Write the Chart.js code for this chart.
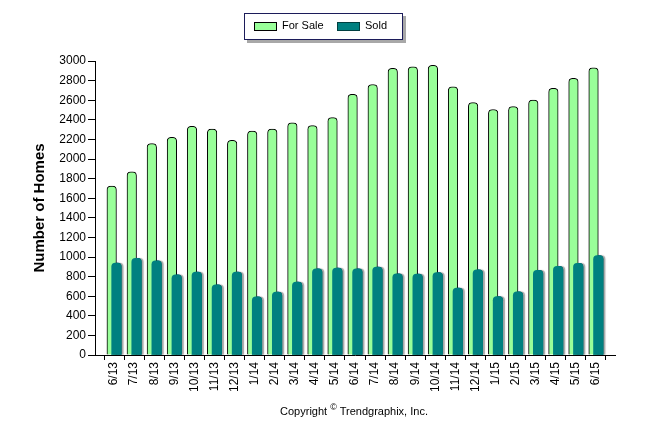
<!DOCTYPE html>
<html lang="en">
<head>
    <meta charset="UTF-8">
    <title>For Sale vs Sold</title>
    <script src="https://cdn.jsdelivr.net/npm/chart.js"></script>
    <style>
        body {
            margin: 0;
            padding: 0;
            background: #fff;
            font-family: 'Liberation Sans', Arial, sans-serif;
        }
        #wrap {
            position: relative;
            width: 646px;
            height: 434px;
        }
        #legend {
            position: absolute;
            left: 244px;
            top: 13px;
            width: 157px;
            height: 25px;
            border: 1px solid #1c1c5a;
            box-shadow: 3px 3px 0 #a8a8a8;
            background: #fff;
            font-size: 11px;
            color: #000;
        }
        #legend .sw {
            position: absolute;
            top: 8px;
            width: 21px;
            height: 7px;
            border: 1px solid #000;
        }
        #legend .txt {
            position: absolute;
            top: 5px;
        }
        #copy {
            position: absolute;
            left: 0;
            width: 646px;
            top: 402px;
            text-align: center;
            font-size: 11px;
            color: #000;
            padding-left: 62px;
            box-sizing: border-box;
        }
        #copy sup { font-size: 9px; }
    </style>
</head>
<body>
<div id="wrap">
    <canvas id="myChart" width="646" height="434"></canvas>
    <div id="legend">
        <div class="sw" style="left:9px;background:#99ff99"></div>
        <div class="txt" style="left:37px">For Sale</div>
        <div class="sw" style="left:92px;background:#008080;border-color:#004040"></div>
        <div class="txt" style="left:120px">Sold</div>
    </div>
    <div id="copy">Copyright <sup>©</sup> Trendgraphix, Inc.</div>
</div>

<script>
    const months = ['6/13', '7/13', '8/13', '9/13', '10/13', '11/13', '12/13',
        '1/14', '2/14', '3/14', '4/14', '5/14', '6/14', '7/14', '8/14', '9/14', '10/14', '11/14', '12/14',
        '1/15', '2/15', '3/15', '4/15', '5/15', '6/15'];
    const forSale = [1723, 1870, 2157, 2221, 2334, 2306, 2190, 2286, 2306, 2368, 2341, 2423,
        2661, 2760, 2924, 2941, 2955, 2736, 2576, 2505, 2535, 2600, 2722, 2822, 2930];
    const sold = [939, 986, 962, 819, 846, 717, 846, 594, 642, 744, 880, 887,
        880, 898, 829, 826, 840, 683, 870, 597, 645, 863, 904, 935, 1014];

    // Sold bars must sit on top of the For Sale bars
    const soldOnTop = {
        id: 'soldOnTop',
        afterDatasetsDraw(chart) {
            const ctx = chart.ctx;
            const a = chart.chartArea;
            ctx.save();
            ctx.beginPath();
            ctx.rect(a.left, a.top, a.right - a.left, a.bottom - a.top);
            ctx.clip();
            ctx.shadowColor = 'rgba(0,0,0,0.35)';
            ctx.shadowOffsetX = 2;
            ctx.shadowOffsetY = 0;
            ctx.shadowBlur = 1;
            chart.getDatasetMeta(1).controller.draw();
            ctx.restore();
        }
    };

    const font = { family: "'Liberation Sans', Arial, sans-serif", size: 12 };

    new Chart(document.getElementById('myChart').getContext('2d'), {
        type: 'bar',
        data: {
            datasets: [{
                label: 'For Sale',
                data: forSale.map((v, i) => ({ x: i, y: v })),
                backgroundColor: '#99ff99',
                borderColor: '#000',
                borderWidth: 1,
                borderSkipped: 'bottom',
                borderRadius: { topLeft: 4, topRight: 4 },
                categoryPercentage: 0.5,
                barPercentage: 2
            }, {
                label: 'Sold',
                data: sold.map((v, i) => ({ x: i, y: v })),
                backgroundColor: '#008080',
                borderWidth: 0,
                borderRadius: { topLeft: 4, topRight: 4 },
                categoryPercentage: 0.5,
                barPercentage: 2
            }]
        },
        options: {
            responsive: false,
            animation: false,
            layout: { padding: { top: 61, right: 31, left: 0, bottom: 0 } },
            plugins: {
                legend: { display: false },
                tooltip: { enabled: false }
            },
            scales: {
                x: {
                    type: 'linear',
                    min: -0.95,
                    max: 24.95,
                    offset: false,
                    border: { color: '#000', width: 1 },
                    grid: { display: true, drawOnChartArea: false, color: '#000', tickLength: 5 },
                    ticks: {
                        stepSize: 1,
                        autoSkip: false,
                        minRotation: 90,
                        maxRotation: 90,
                        padding: 2,
                        color: '#000',
                        font: font,
                        callback: v => (Number.isInteger(v) && months[v]) ? months[v] : ''
                    },
                    afterFit: s => { s.height = 79; }
                },
                y: {
                    min: 0,
                    max: 3000,
                    border: { color: '#000', width: 1 },
                    grid: { display: true, drawOnChartArea: false, color: '#000', tickLength: 7 },
                    ticks: { stepSize: 200, padding: 2, color: '#000', font: font, callback: v => String(v) },
                    title: {
                        display: true,
                        text: 'Number of Homes',
                        color: '#000',
                        font: { family: "'Liberation Sans', Arial, sans-serif", size: 15, weight: 'bold' },
                        padding: { top: 31, bottom: 0 }
                    },
                    afterFit: s => { s.width = 95; }
                }
            }
        },
        plugins: [soldOnTop]
    });
</script>
</body>
</html>
